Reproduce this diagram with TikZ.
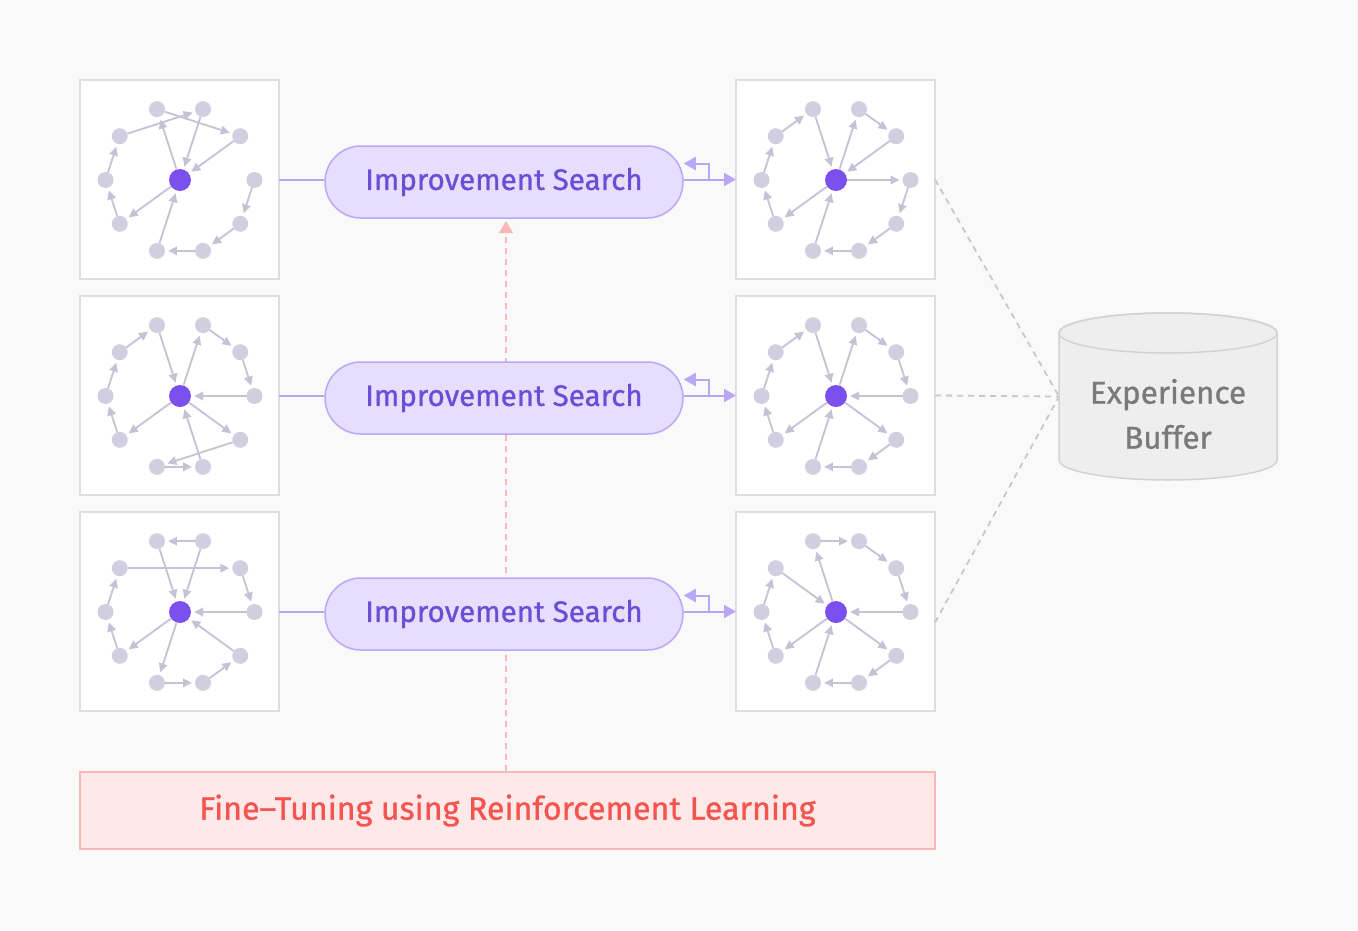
\documentclass[tikz,border=0pt]{standalone}
\usepackage{fontspec}
\setmainfont{Fira Sans}
\newfontfamily\lbl{Fira Sans}[FakeBold=0.9]
\usetikzlibrary{arrows.meta,calc}
\definecolor{bgc}{HTML}{F9F9F9}
\definecolor{panelborder}{HTML}{DEDEDE}
\definecolor{nodegray}{HTML}{D2CEE0}
\definecolor{edgegray}{HTML}{C6C2D6}
\definecolor{centerpurple}{HTML}{7B50EE}
\definecolor{isfill}{HTML}{E5DFFD}
\definecolor{isborder}{HTML}{BBA8F5}
\definecolor{istext}{HTML}{6A4FD6}
\definecolor{parrowc}{HTML}{B9A6F6}
\definecolor{pinkc}{HTML}{FBB8B8}
\definecolor{ftfill}{HTML}{FFE8E8}
\definecolor{ftborder}{HTML}{F9B8B8}
\definecolor{fttextc}{HTML}{F4544F}
\definecolor{graydash}{HTML}{C8C8C8}
\definecolor{cylfill}{HTML}{EEEEEE}
\definecolor{cylborder}{HTML}{D3D3D3}
\definecolor{buftextc}{HTML}{7A7A7A}
\newcommand\mkgraph[3]{%
  \node[cnode] (#1c) at (#2,#3) {};
  \foreach \k in {0,...,9}{\node[onode] (#1\k) at ([shift={(36*\k:74.5pt)}]#2,#3) {};}
}
\newcommand\mkedges[2]{\foreach \a/\b in {#2}{\draw[gedge] (#1\a) -- (#1\b);}}
\begin{document}
\begin{tikzpicture}[x=1pt,y=-1pt,
  panel/.style={draw=panelborder, line width=1.5pt, fill=white, minimum width=199pt, minimum height=199pt, inner sep=0pt, outer sep=0pt},
  onode/.style={circle, fill=nodegray, minimum size=16pt, inner sep=0pt, outer sep=0pt},
  cnode/.style={circle, fill=centerpurple, minimum size=22pt, inner sep=0pt, outer sep=0pt},
  gedge/.style={draw=edgegray, line width=1.8pt, -{Triangle[length=9pt,width=8.5pt]}, shorten >=3pt},
  isbox/.style={rounded corners=36pt, draw=isborder, fill=isfill, line width=1.5pt, minimum width=358pt, minimum height=72pt, text=istext, font=\lbl\fontsize{29.6}{34}\selectfont, inner sep=0pt},
  pline/.style={draw=parrowc, line width=2pt},
  parrow/.style={draw=parrowc, line width=2pt, -{Triangle[length=12pt,width=13pt]}},
  pdash/.style={draw=pinkc, line width=1.5pt, dash pattern=on 6pt off 5pt, -{Triangle[length=12pt,width=14pt]}},
  gdash/.style={draw=graydash, line width=1.8pt, dash pattern=on 6pt off 5pt},
  ftbox/.style={draw=ftborder, fill=ftfill, line width=1.5pt, minimum width=855pt, minimum height=77pt, inner sep=0pt, text=fttextc, font=\lbl\fontsize{32.2}{37}\selectfont},
  buftext/.style={text=buftextc, font=\lbl\fontsize{31.5}{45}\selectfont, align=center, inner sep=0pt}
]
\fill[bgc] (0,0) rectangle (1358,930);
\useasboundingbox (0,0) rectangle (1358,930);

% panels
\node[panel] (P1) at (179.5,179.5) {};
\node[panel] (P2) at (179.5,395.5) {};
\node[panel] (P3) at (179.5,611.5) {};
\node[panel] (P4) at (835.5,179.5) {};
\node[panel] (P5) at (835.5,395.5) {};
\node[panel] (P6) at (835.5,611.5) {};

% graphs
\mkgraph{A}{180}{180}
\mkgraph{B}{180}{396}
\mkgraph{C}{180}{612}
\mkgraph{D}{836}{180}
\mkgraph{E}{836}{396}
\mkgraph{F}{836}{612}
\mkedges{A}{3/1,4/2,c/3,2/c,1/c,c/6,7/c,6/5,5/4,0/9,9/8,8/7}
\mkedges{B}{4/3,3/c,c/2,2/1,1/0,0/c,c/9,9/7,7/8,8/c,c/6,6/5,5/4}
\mkedges{C}{2/3,3/c,2/c,4/1,1/0,0/c,9/c,c/7,7/8,8/9,c/6,6/5,5/4}
\mkedges{D}{4/3,3/c,c/2,2/1,1/c,c/0,0/9,9/8,8/7,7/c,c/6,6/5,5/4}
\mkedges{E}{4/3,3/c,c/2,2/1,1/0,0/c,c/9,9/8,8/7,7/c,c/6,6/5,5/4}
\mkedges{F}{3/2,2/1,1/0,0/c,c/3,4/c,c/9,9/8,8/7,7/c,c/6,6/5,5/4}

% fine-tuning box and pink dashed arrow
\node[ftbox] (FT) at (507.5,810.5) {Fine–Tuning using Reinforcement Learning};
\coordinate (pinktop) at (506,221);
\draw[pdash] (FT.north -| pinktop) -- (pinktop);

% improvement search boxes
\node[isbox] (S1) at (504,182) {Improvement Search};
\node[isbox] (S2) at (504,398) {Improvement Search};
\node[isbox] (S3) at (504,614) {Improvement Search};

% connectors
\foreach \l/\s/\r in {P1/S1/P4,P2/S2/P5,P3/S3/P6}{
  \draw[pline] (\l.east) -- (\l.east -| \s.west);
  \draw[parrow] (\r.west -| \s.east) -- (\r.west);
  \coordinate (K\s) at ($(\r.west -| \s.east)+(25pt,0pt)$);
  \draw[parrow] (K\s) |- ($(\r.west -| \s.east)+(0pt,16pt)$);
}

% experience buffer
\node[minimum width=218pt, minimum height=167pt, inner sep=0pt, outer sep=0pt] (buf) at (1168,396.5) {};
\draw[gdash] (P4.east) -- (buf.west);
\draw[gdash] (P5.east) -- (buf.west);
\draw[gdash] ([yshift=-11pt]P6.east) -- (buf.west);
\filldraw[fill=cylfill, draw=cylborder, line width=1.5pt]
  (1059,333) -- (1059,460) arc[start angle=180, end angle=360, x radius=109pt, y radius=20pt]
  -- (1277,333) arc[start angle=0, end angle=180, x radius=109pt, y radius=20pt] -- cycle;
\draw[draw=cylborder, line width=1.5pt] (1168,333) ellipse[x radius=109pt, y radius=20pt];
\node[buftext] (buftxt) at (1168,414) {Experience\\Buffer};
\end{tikzpicture}
\end{document}
